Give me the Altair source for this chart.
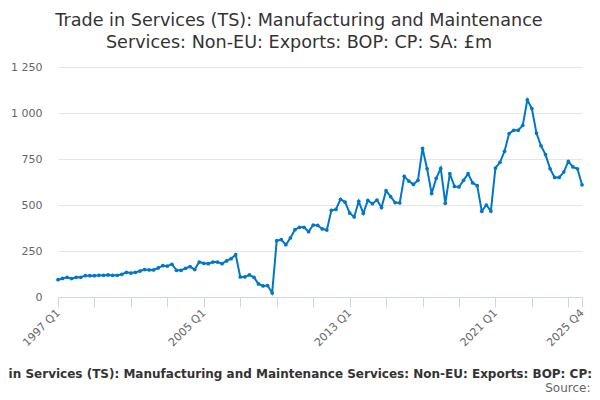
import pandas as pd
import altair as alt

years = list(range(1997, 2026))
quarters = ["Q1", "Q2", "Q3", "Q4"]
periods = [f"{y} {q}" for y in years for q in quarters]

exports = [
    94, 101, 107, 100, 107, 107, 116, 116, 116, 118,
    118, 120, 118, 118, 123, 134, 130, 134, 141, 149,
    147, 147, 158, 170, 168, 178, 145, 145, 156, 165,
    149, 190, 183, 181, 190, 190, 181, 196, 208, 230,
    109, 109, 120, 107, 71, 60, 62, 22, 306, 312,
    284, 321, 366, 379, 379, 355, 391, 389, 370, 364,
    471, 476, 531, 516, 457, 435, 520, 455, 525, 507,
    527, 486, 578, 545, 513, 511, 656, 630, 612, 634,
    808, 697, 562, 645, 699, 509, 670, 601, 598, 634,
    670, 620, 605, 466, 500, 467, 701, 732, 792, 888,
    906, 906, 933, 1071, 1024, 891, 822, 774, 697, 650,
    650, 679, 737, 707, 697, 610,
]

tick_periods = periods[::8] + [periods[-1]]
label_periods = ["1997 Q1", "2005 Q1", "2013 Q1", "2021 Q1", "2025 Q4"]
y_ticks = [0, 250, 500, 750, 1000, 1250]

series_name = ("Trade in Services (TS): Manufacturing and Maintenance "
               "Services: Non-EU: Exports: BOP: CP: SA: £m")

df = pd.DataFrame({"period": periods, "value": exports})

font = "DejaVu Sans"
label_list = "[" + ",".join(f"'{p}'" for p in label_periods) + "]"

chart = alt.Chart(df).mark_line(
    color="#0077c8", strokeWidth=2,
    point=alt.OverlayMarkDef(color="#0077c8", size=14, filled=True),
).encode(
    x=alt.X("period:O", sort=periods,
            scale=alt.Scale(type="point", padding=0),
            axis=alt.Axis(values=tick_periods,
                          labelExpr=f"indexof({label_list}, datum.label) >= 0 ? datum.label : ''",
                          labelAngle=-45, labelAlign="right", labelBaseline="middle",
                          labelFont=font, labelFontSize=11, labelColor="#666666",
                          labelPadding=4, labelOverlap=False,
                          domainColor="#ccd6eb", tickColor="#ccd6eb", tickSize=10,
                          grid=False,
                          title=series_name, titleFont=font, titleFontSize=12,
                          titleFontWeight="bold", titleColor="#333333",
                          titleX=247, titleY=80, titleAlign="center",
                          titleBaseline="alphabetic")),
    y=alt.Y("value:Q", scale=alt.Scale(domain=[0, 1250], nice=False),
            axis=alt.Axis(values=y_ticks,
                          labelExpr="replace(format(datum.value, ','), ',', ' ')",
                          labelFont=font, labelFontSize=11, labelColor="#666666",
                          labelPadding=16, domain=False, ticks=False,
                          gridColor="#e6e6e6", gridWidth=1,
                          title="Source:", titleFont=font, titleFontSize=12,
                          titleFontWeight="normal", titleColor="#666666",
                          titleAngle=0, titleX=532, titleY=324,
                          titleAlign="right", titleBaseline="alphabetic")),
).properties(
    width=524,
    height=230,
    autosize=alt.AutoSizeParams(type="none"),
    padding={"left": 50, "top": 59, "right": 10, "bottom": 95},
    title=alt.TitleParams(
        text=["Trade in Services (TS): Manufacturing and Maintenance",
              "Services: Non-EU: Exports: BOP: CP: SA: £m"],
        font=font, fontSize=17.6, fontWeight="normal", color="#333333",
        anchor="middle", dx=-21, dy=19, offset=14, lineHeight=22,
        baseline="alphabetic"),
).configure_view(stroke=None)

chart.save("out.html", embed_options={"renderer": "svg", "actions": False})
